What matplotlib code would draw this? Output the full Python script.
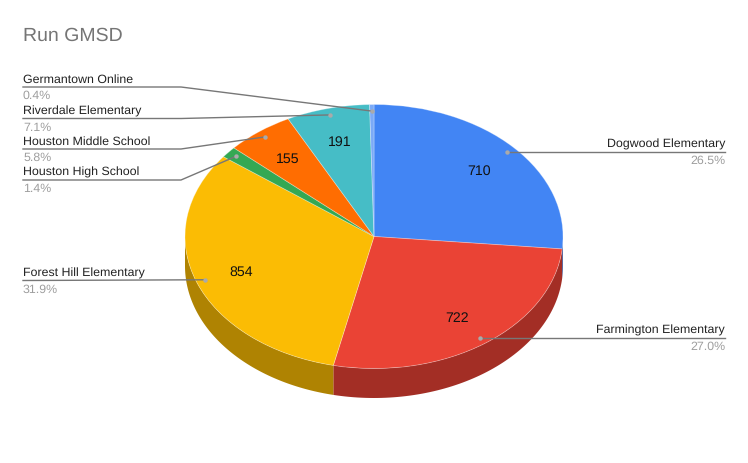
import matplotlib.pyplot as plt
import numpy as np

names = ['Dogwood Elementary', 'Farmington Elementary', 'Forest Hill Elementary', 'Houston High School',
         'Houston Middle School', 'Riverdale Elementary', 'Germantown Online']
values = [710, 722, 854, 37, 155, 191, 10]
colors = ['#4285f4', '#ea4335', '#fbbc04', '#34a853', '#ff6d01', '#46bdc6', '#7baaf7']
side_colors = ['#2e5dab', '#a32e25', '#af8302', '#247537', '#b24c00', '#31848a', '#5676ac']

# leader line height of each label, same order as names (pixels)
line_y = [152, 338, 280.5, 180, 149, 118.5, 87]

W, H = 748, 463
cx, cy, rx, ry = 374, 236.5, 189, 132
depth = 29.5

plt.rcParams['font.family'] = ['Liberation Sans', 'DejaVu Sans']
plt.rcParams['text.hinting'] = 'no_hinting'
fig = plt.figure(figsize=(W / 100, H / 100), dpi=100)
ax = fig.add_axes([0, 0, 1, 1])

total = sum(values)


def show_value(p):
    return str(int(round(p * total / 100))) if p > 5 else ''


wedges, _, inside = ax.pie(values, colors=colors, startangle=90, counterclock=False, autopct=show_value,
                           pctdistance=0.75, wedgeprops={'linewidth': 0.6, 'edgecolor': '#ffffff50'},
                           textprops={'fontsize': 10.2, 'color': '#111111'})
ax.set_aspect('auto')
ax.set_xlim(-cx / rx, (W - cx) / rx)
ax.set_ylim((cy - H) / ry, cy / ry)
ax.axis('off')

# nudge the numbers down a little
for t in inside:
    x, y = t.get_position()
    t.set_position((x, y - 1.5 / ry))

# the rim of the pie, only the front half can be seen
ends = np.cumsum(values) / total * 360
starts = ends - np.array(values) / total * 360
d = depth / ry
for a, b, c in zip(starts, ends, side_colors):
    a, b = max(a, 90), min(b, 270)
    if a >= b:
        continue
    t = np.radians(np.linspace(a, b, 80))
    xs = np.concatenate([np.sin(t), np.sin(t[::-1])])
    ys = np.concatenate([np.cos(t), np.cos(t[::-1]) - d])
    ax.fill(xs, ys, color=c, lw=0, zorder=0.5)


def to_fig(x, y):
    return x / W, 1 - y / H


fig.text(*to_fig(23, 36), 'Run GMSD', fontsize=14, color='#757575', va='center', ha='left')

for i, name in enumerate(names):
    mid = np.radians((starts[i] + ends[i]) / 2)
    px = cx + rx * 0.95 * np.sin(mid)
    py = cy - ry * 0.95 * np.cos(mid)
    ly = line_y[i]
    if px > cx:
        tx, ha = 725, 'right'
        px_all, ly_all = [725, px], [ly, ly]
    else:
        tx, ha = 23, 'left'
        if abs(py - ly) < 2:
            px_all, ly_all = [23, px], [ly, py]
        else:
            px_all, ly_all = [23, 181, px], [ly, ly, py]
    fx, fy = zip(*[to_fig(a, b) for a, b in zip(px_all, ly_all)])
    ax.plot(fx, fy, transform=fig.transFigure, color='#777777', lw=1, zorder=5)
    ax.plot(*to_fig(px, py), 'o', transform=fig.transFigure, color='#aaaaaa', ms=3.2, mew=0, zorder=6)
    fig.text(*to_fig(tx, ly - 7.5), name, fontsize=8.9, color='#222222', va='center', ha=ha)
    fig.text(*to_fig(tx, ly + 9), f'{values[i] / total * 100:.1f}%', fontsize=8.9, color='#9e9e9e', va='center', ha=ha)

fig.savefig('out.png', dpi=100, facecolor='white')
